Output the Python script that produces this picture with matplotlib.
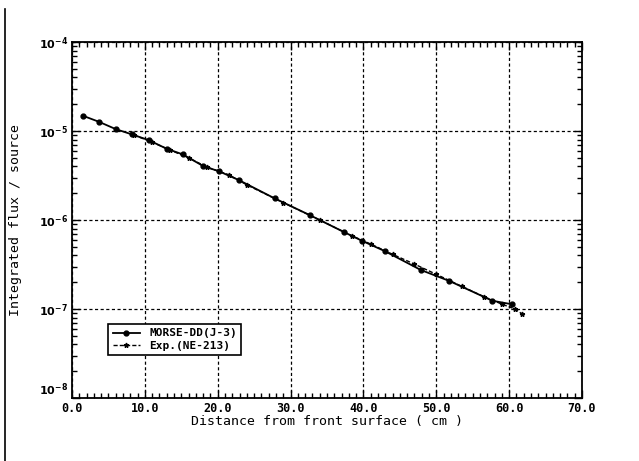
import numpy as np
import matplotlib.pyplot as plt
from matplotlib.ticker import FixedLocator, MultipleLocator, LogLocator, NullFormatter

plt.rcParams['font.family'] = ['DejaVu Sans Mono']
plt.rcParams['font.weight'] = 'bold'
plt.rcParams['mathtext.default'] = 'bf'

# MORSE-DD(J-3) calculation
morse_x = [1.5, 3.7, 6.0, 8.2, 10.5, 13.0, 15.2, 18.0, 20.2, 22.9, 27.8, 32.7,
           37.4, 39.8, 42.9, 47.9, 51.8, 57.7, 60.4]
morse_log = [-4.828, -4.896, -4.978, -5.037, -5.101, -5.199, -5.262, -5.393, -5.453,
             -5.551, -5.756, -5.947, -6.138, -6.233, -6.348, -6.562, -6.685, -6.907, -6.947]
morse_y = [10 ** v for v in morse_log]

# Exp. (NE-213) measurement
exp_x = [8.5, 11.0, 13.5, 16.0, 18.5, 21.5, 24.0, 29.0, 34.0, 38.5, 41.0, 44.0,
         47.0, 50.0, 53.5, 56.5, 59.0, 60.8, 61.8]
exp_log = [-5.045, -5.125, -5.215, -5.300, -5.405, -5.490, -5.605, -5.805, -6.000,
           -6.180, -6.270, -6.385, -6.495, -6.610, -6.745, -6.860, -6.945, -7.000, -7.056]
exp_y = [10 ** v for v in exp_log]

xticks = [0, 10, 20, 30, 40, 50, 60, 70]
yticks = [1e-8, 1e-7, 1e-6, 1e-5, 1e-4]

fig = plt.figure(figsize=(6.39, 4.61), dpi=100)
ax = fig.add_axes([0.1127, 0.1367, 0.798, 0.772])

ax.plot(morse_x, morse_y, '-', color='black', lw=1.3, marker='o', ms=3.5,
        label='MORSE-DD(J-3)')
ax.plot(exp_x, exp_y, '--', color='black', lw=1.0, marker='*', ms=3.5,
        dashes=(3, 1.5), label='Exp.(NE-213)')

ax.set_yscale('log')
ax.set_xlim(0, 70)
ax.set_ylim(1e-8, 1e-4)

ax.xaxis.set_major_locator(FixedLocator(xticks))
ax.xaxis.set_minor_locator(MultipleLocator(1))
ax.set_xticklabels(['%.1f' % v for v in xticks], fontsize=8.5)
ax.yaxis.set_major_locator(FixedLocator(yticks))
ax.yaxis.set_minor_locator(LogLocator(base=10, subs=np.arange(2, 10)))
ax.yaxis.set_minor_formatter(NullFormatter())
ax.set_yticklabels([r'$10^{%d}$' % int(np.log10(v)) for v in yticks], fontsize=8)

# lowest y label sits just above the 0.0 label, as in the original
ax.get_yticklabels()[0].set_va('bottom')

ax.tick_params(which='both', direction='in', top=True, right=True, width=1)
ax.tick_params(which='major', length=6)
ax.tick_params(which='minor', length=3.5)
ax.tick_params(axis='x', pad=3)
ax.tick_params(axis='y', pad=3)

ax.grid(True, which='major', color='black', lw=0.9, linestyle=(0, (2.5, 2)))
for s in ax.spines.values():
    s.set_linewidth(1.3)

ax.set_xlabel('Distance from front surface ( cm )', fontsize=9.5, labelpad=0)
ax.set_ylabel('Integrated flux / source', fontsize=9.5, labelpad=12)

leg = ax.legend(loc='lower left', bbox_to_anchor=(0.06, 0.105), fontsize=8,
                fancybox=False, edgecolor='black', framealpha=1,
                handlelength=2.5, borderpad=0.4, labelspacing=0.2)
leg.get_frame().set_linewidth(1.2)

# scan border on the left edge
fig.add_artist(plt.Line2D([0.008, 0.008], [0.0, 0.98], color='black', lw=1.2,
                          transform=fig.transFigure))

fig.savefig('out.png', dpi=100)
